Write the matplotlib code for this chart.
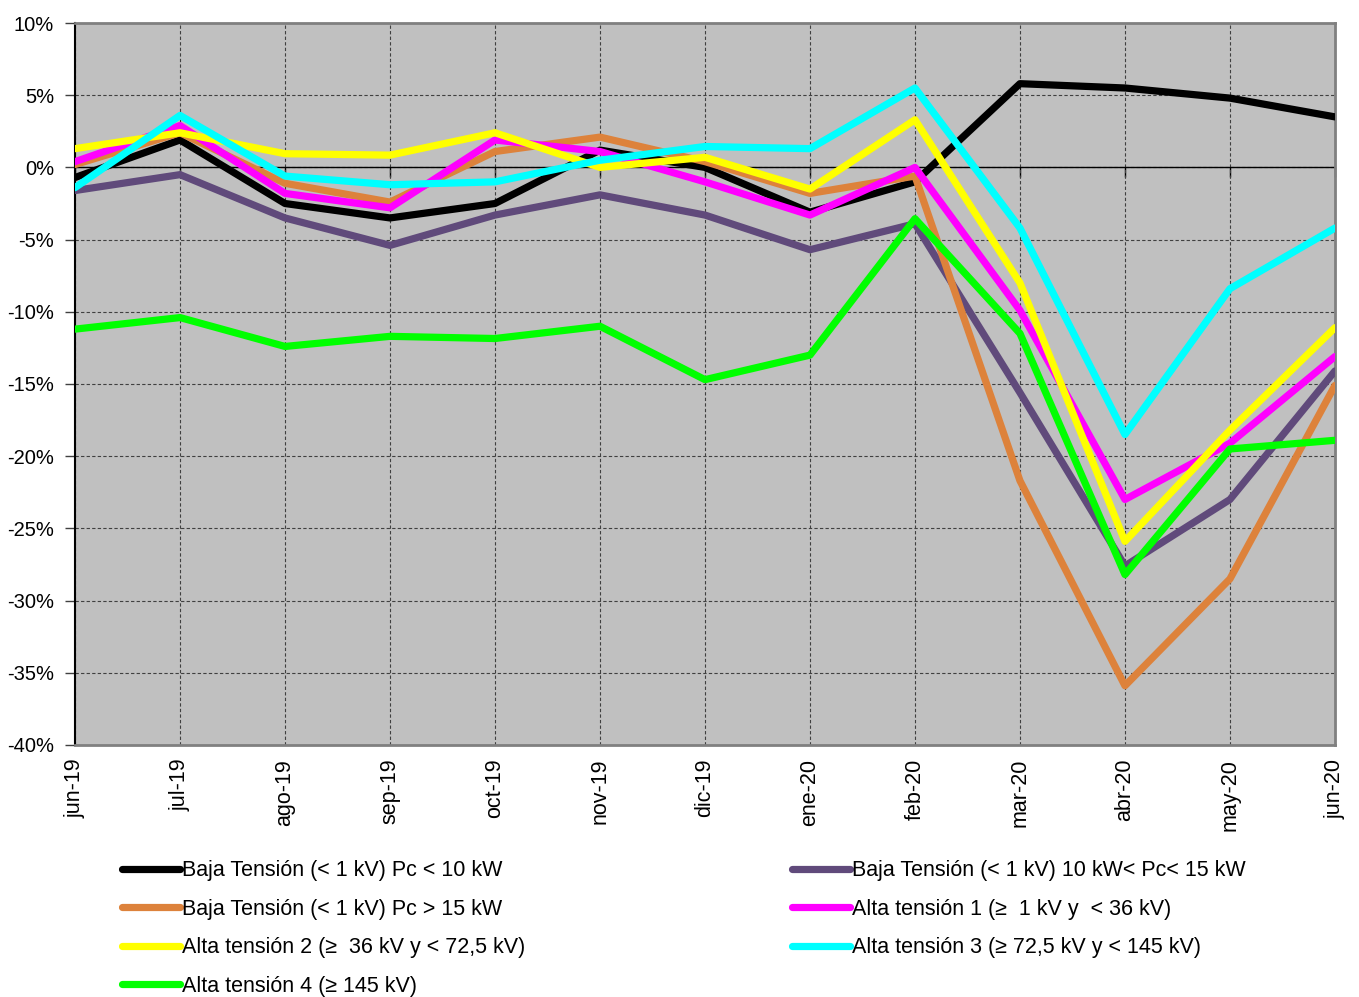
import numpy as np
import matplotlib
matplotlib.use('Agg')
import matplotlib.pyplot as plt

plt.rcParams['font.family'] = ['Liberation Sans', 'DejaVu Sans']

# --- datos (variación %) ---
meses = ['jun-19', 'jul-19', 'ago-19', 'sep-19', 'oct-19', 'nov-19', 'dic-19',
         'ene-20', 'feb-20', 'mar-20', 'abr-20', 'may-20', 'jun-20']

bt_menor_10 = [-0.7, 1.9, -2.5, -3.5, -2.5, 1.2, 0.0, -3.1, -1.0, 5.8, 5.5, 4.8, 3.5]
bt_10_15 = [-1.6, -0.5, -3.5, -5.4, -3.3, -1.9, -3.3, -5.7, -3.9, -15.6, -27.6, -23.0, -14.1]
bt_mayor_15 = [0.2, 2.4, -1.1, -2.4, 1.1, 2.1, 0.4, -1.8, -0.6, -21.7, -35.9, -28.5, -15.1]
at_1 = [0.4, 2.9, -1.8, -2.8, 1.9, 1.1, -1.0, -3.3, 0.0, -9.9, -23.0, -19.1, -13.1]
at_2 = [1.3, 2.4, 0.95, 0.85, 2.4, 0.0, 0.7, -1.5, 3.3, -8.0, -25.9, -18.2, -11.1]
at_3 = [-1.4, 3.6, -0.6, -1.2, -1.0, 0.5, 1.45, 1.3, 5.5, -4.2, -18.5, -8.4, -4.2]
at_4 = [-11.2, -10.4, -12.4, -11.7, -11.85, -11.0, -14.7, -13.0, -3.55, -11.5, -28.2, -19.5, -18.9]

series = [
    ("Baja Tensión (< 1 kV) Pc < 10 kW", bt_menor_10, '#000000'),
    ("Baja Tensión (< 1 kV) 10 kW< Pc< 15 kW", bt_10_15, '#604A7B'),
    ("Baja Tensión (< 1 kV) Pc > 15 kW", bt_mayor_15, '#DD823B'),
    ("Alta tensión 1 (≥  1 kV y  < 36 kV)", at_1, '#FF00FF'),
    ("Alta tensión 2 (≥  36 kV y < 72,5 kV)", at_2, '#FFFF00'),
    ("Alta tensión 3 (≥ 72,5 kV y < 145 kV)", at_3, '#00FFFF'),
    ("Alta tensión 4 (≥ 145 kV)", at_4, '#00FF00'),
]

y_ticks = [10, 5, 0, -5, -10, -15, -20, -25, -30, -35, -40]

# --- figura ---
fig = plt.figure(figsize=(13.59, 9.97), dpi=100)
ax = fig.add_axes([0.0552, 0.2528, 0.9271, 0.7241])
ax.set_facecolor('#C0C0C0')

x = np.arange(len(meses))
lines = {}
for name, vals, color in series:
    ln, = ax.plot(x, vals, color=color, lw=5.2, solid_capstyle='round',
                  solid_joinstyle='round', label=name, zorder=3)
    lines[name] = ln

ax.axhline(0, color='black', lw=1.0, zorder=2)

ax.set_xlim(0, len(meses) - 1)
ax.set_ylim(-40, 10)
ax.set_xticks(x)
ax.set_xticklabels(meses, rotation=90, fontsize=15.5)
ax.set_yticks(y_ticks)
ax.set_yticklabels([f'{v}%' for v in y_ticks], fontsize=14.5)
ax.tick_params(axis='x', length=0, pad=10)
ax.tick_params(axis='y', length=7, width=1, color='#404040', pad=8)

ax.grid(True, color='#404040', lw=0.8, linestyle=(0, (3, 2)), zorder=1)
ax.set_axisbelow(True)

for s in ['top', 'right', 'bottom']:
    ax.spines[s].set_color('#808080')
    ax.spines[s].set_linewidth(2)
ax.spines['left'].set_color('black')
ax.spines['left'].set_linewidth(1.5)

# marcas del eje de categorías sobre la línea del 0%
sec = ax.secondary_xaxis(40 / 50)
sec.set_alignment('bottom')
sec.set_xticks(x)
sec.tick_params(axis='x', length=7, width=1, color='black', labelbottom=False, labeltop=False)
for s in sec.spines.values():
    s.set_visible(False)

# --- leyenda (orden por filas como en el original) ---
orden = [0, 2, 4, 6, 1, 3, 5]
handles = [lines[series[i][0]] for i in orden]
labels = [series[i][0] for i in orden]
leg = fig.legend(handles, labels, ncol=2, loc='upper left',
                 bbox_to_anchor=(0.0898, 0.137), frameon=False,
                 fontsize=15.5, handlelength=2.7, handletextpad=0.1,
                 columnspacing=12.37, labelspacing=0.81,
                 borderpad=0, borderaxespad=0)

fig.savefig('out.png', dpi=100)
